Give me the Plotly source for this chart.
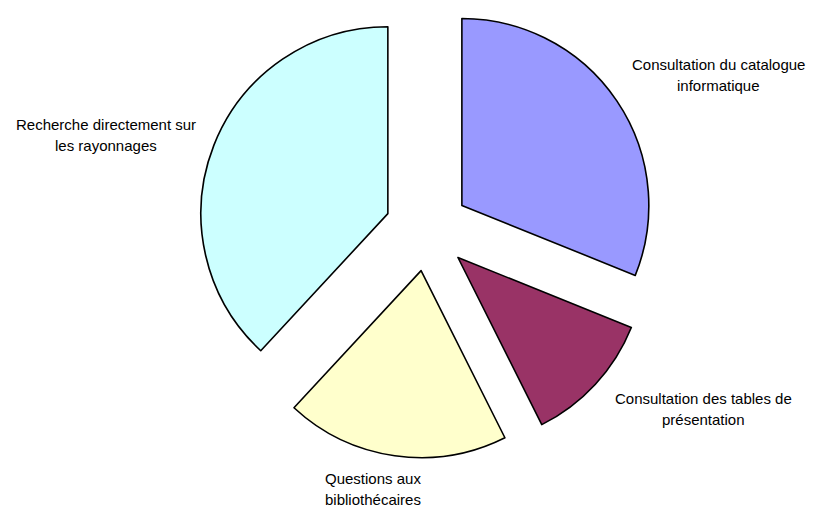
import plotly.graph_objects as go

categories = [
    "Consultation du catalogue<br>informatique",
    "Consultation des tables de<br>présentation",
    "Questions aux<br>bibliothécaires",
    "Recherche directement sur<br>les rayonnages",
]
values = [31.1, 11.5, 19.3, 38.1]
colors = ["#9999FF", "#993366", "#FFFFCC", "#CCFFFF"]

# label anchor positions (paper coordinates, centre of text block)
label_x = [718 / 816, 703 / 816, 373 / 816, 106 / 816]
label_y = [1 - 75 / 507, 1 - 409 / 507, 1 - 489 / 507, 1 - 135 / 507]

fig = go.Figure()
fig.add_trace(go.Pie(
    labels=[c.replace("<br>", " ") for c in categories],
    values=values,
    sort=False,
    direction="clockwise",
    rotation=0,
    pull=[0.225] * len(values),
    marker=dict(colors=colors, line=dict(color="black", width=1.6)),
    textinfo="none",
    hoverinfo="label+percent",
    domain=dict(x=[0.20, 0.8466], y=[0.0966, 1.0]),
    showlegend=False,
))

line_gap = 21 / 507
annotations = []
for cat, x, y in zip(categories, label_x, label_y):
    lines = cat.split("<br>")
    n = len(lines)
    for i, ln in enumerate(lines):
        yy = y + ((n - 1) / 2 - i) * line_gap
        annotations.append(dict(
            text=ln, x=x, y=yy, xref="paper", yref="paper",
            xanchor="center", yanchor="middle", showarrow=False,
            font=dict(family="Liberation Sans, Arial, sans-serif", size=15, color="black"),
        ))

fig.update_layout(
    width=816, height=507,
    margin=dict(l=0, r=0, t=0, b=0),
    paper_bgcolor="white", plot_bgcolor="white",
    annotations=annotations,
)

fig.write_html(
    "out.html",
    config={"displayModeBar": False},
    post_script="document.body.style.margin='0';document.body.style.overflow='hidden';",
)
